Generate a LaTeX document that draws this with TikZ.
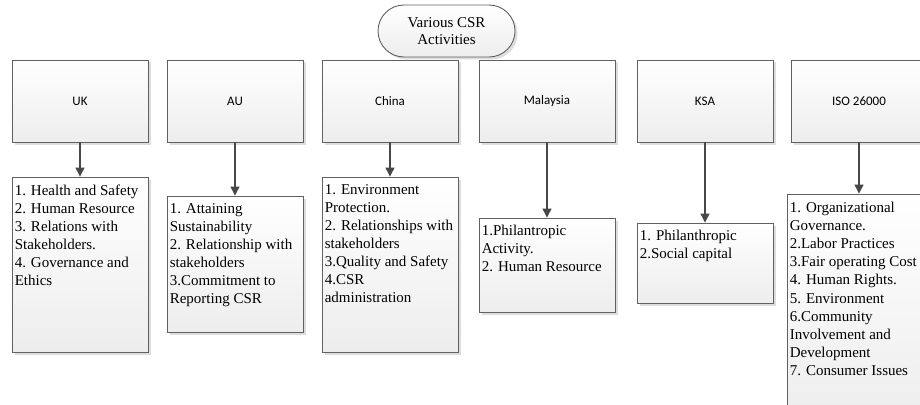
\documentclass[tikz,border=0pt]{standalone}
\usepackage{fontspec}
\setmainfont{Liberation Serif}
\newfontfamily\calfont{Carlito}
\usetikzlibrary{shadows,arrows.meta}
\begin{document}
\begin{tikzpicture}[x=1pt,y=-1pt,
 box/.style={draw=black!62, line width=0.9pt, top color=white, bottom color=black!7,
   drop shadow={shadow xshift=2.5pt,shadow yshift=-2.5pt,opacity=0.22,fill=black!60},
   minimum width=136pt, inner sep=0pt},
 headbox/.style={box, minimum height=82pt, font=\calfont\fontsize{13}{15}\selectfont},
 listtext/.style={font=\fontsize{15}{18}\selectfont, align=left, anchor=north west, inner sep=0pt},
 arr/.style={draw=black!72, line width=1.2pt, -{Triangle[width=9pt,length=9pt]}}
]
\clip (0,0) rectangle (920,404);
\fill[white] (0,0) rectangle (920,404);

% header boxes
\node[headbox] (ukh) at (80,101) {UK};
\node[headbox] (auh) at (235,101) {AU};
\node[headbox] (cnh) at (390,101) {China};
\node[headbox] (myh) at (547,101) {Malaysia};
\node[headbox] (ksah) at (705,101) {KSA};
\node[headbox] (isoh) at (859,101) {ISO 26000};

% top node
\node[box, rounded corners=26pt, minimum width=137pt, minimum height=52pt, align=center,
  font=\fontsize{15}{17}\selectfont] (top) at (446.5,31) {Various CSR\\Activities};

% list boxes
\node[box, minimum height=175pt] (ukl) at (80,264.5) {};
\node[box, minimum height=136pt] (aul) at (235,264) {};
\node[box, minimum height=175pt] (cnl) at (390,264.5) {};
\node[box, minimum height=94pt] (myl) at (547,265) {};
\node[box, minimum height=80pt] (ksal) at (705,263) {};
\node[box, minimum height=226pt] (isol) at (855,307) {};

% list texts
\node[listtext] (ukt) at ([shift={(3,8)}]ukl.north west)
 {1. Health and Safety\\2. Human Resource\\3. Relations with\\Stakeholders.\\4. Governance and\\Ethics};
\node[listtext] (aut) at ([shift={(3,8)}]aul.north west)
 {1. Attaining\\Sustainability\\2. Relationship with\\stakeholders\\3.Commitment to\\Reporting CSR};
\node[listtext] (cnt) at ([shift={(3,8)}]cnl.north west)
 {1. Environment\\Protection.\\2. Relationships with\\stakeholders\\3.Quality and Safety\\4.CSR\\administration};
\node[listtext] (myt) at ([shift={(3,7)}]myl.north west)
 {1.Philantropic\\Activity.\\2. Human Resource};
\node[listtext] (ksat) at ([shift={(3,7)}]ksal.north west)
 {1. Philanthropic\\2.Social capital};
\node[listtext, font=\fontsize{15}{18.2}\selectfont] (isot) at ([shift={(3,8)}]isol.north west)
 {1. Organizational\\Governance.\\2.Labor Practices\\3.Fair operating Cost\\4. Human Rights.\\5. Environment\\6.Community\\Involvement and\\Development\\7. Consumer Issues};

% connectors
\draw[arr] (ukh.south) -- (ukl.north);
\draw[arr] (auh.south) -- (aul.north);
\draw[arr] (cnh.south) -- (cnl.north);
\draw[arr] (myh.south) -- (myh.south |- myl.north);
\draw[arr] (ksah.south) -- (ksal.north);
\draw[arr] (isoh.south) -- (isoh.south |- isol.north);
\end{tikzpicture}
\end{document}
